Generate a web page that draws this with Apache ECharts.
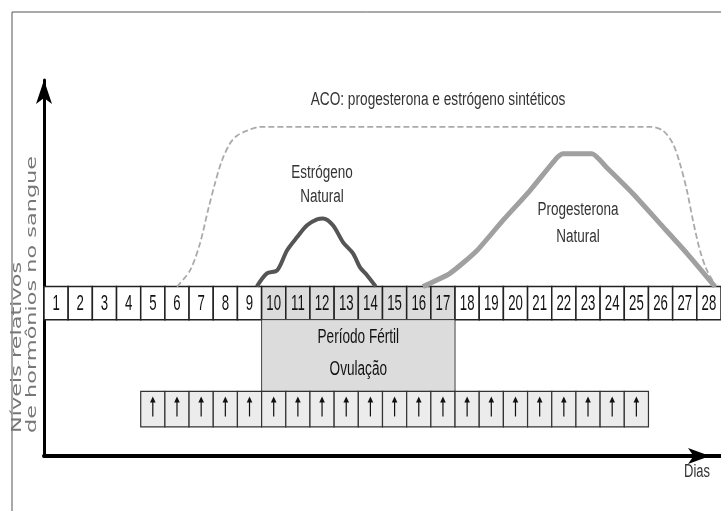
<!DOCTYPE html>
<html>
<head>
<meta charset="utf-8">
<script src="https://cdn.jsdelivr.net/npm/echarts@6/dist/echarts.min.js"></script>
<style>
  html, body { margin: 0; padding: 0; background: #fff; }
  #grafica { width: 721px; height: 511px; }
</style>
</head>
<body>
<div id="grafica"></div>
<script>
// Dias do ciclo
const days = [1, 2, 3, 4, 5, 6, 7, 8, 9, 10, 11, 12, 13, 14, 15, 16, 17, 18, 19, 20, 21, 22, 23, 24, 25, 26, 27, 28];
const fertileDays = [10, 11, 12, 13, 14, 15, 16, 17];
const pillDays = [5, 6, 7, 8, 9, 10, 11, 12, 13, 14, 15, 16, 17, 18, 19, 20, 21, 22, 23, 24, 25];
const fertileLabels = ['Período Fértil', 'Ovulação'];

// Niveis relativos [dia, nivel]
const acoCurve = [[5.5, 0], [6.04, 10], [6.45, 26.7], [6.78, 47.1], [7.07, 63.9], [7.36, 78.1], [7.69, 88.6],
  [7.98, 93.5], [8.4, 96.6], [8.94, 99], [25.06, 99], [25.6, 96.6], [26.01, 88.6], [26.3, 76.3],
  [26.59, 59.5], [26.84, 41], [27.13, 22.4], [27.42, 10], [27.8, 0]];
const estrogenCurve = [[8.8, 0], [9.22, 8.2], [9.64, 10], [10.05, 22.4], [10.46, 30.5], [10.88, 38],
  [11.29, 41.6], [11.54, 42.2], [11.95, 38], [12.37, 27.4], [12.78, 20.6], [13.07, 11.9], [13.36, 7], [13.72, 0]];
const progesteroneCurve = [[15.67, 0], [16.79, 8.2], [17.91, 22.4], [18.98, 41], [20.1, 59.5], [21.22, 79.9],
  [21.46, 82.3], [22.66, 82.3], [23.28, 73.6], [24.36, 57.5], [25.48, 39], [26.59, 20.6], [27.75, 0]];

// faixas da tabela abaixo do nivel zero
const dayRow = [0, -20.5];
const fertileRow = [-20.5, -65];
const pillRow = [-65, -87];

const chart = echarts.init(document.getElementById('grafica'));

function cellText(x, y, text, size, sx) {
  return {
    type: 'text', x: x, y: y, scaleX: sx,
    style: { text: text, fontSize: size, fontFamily: 'Liberation Sans', fill: '#111', align: 'center', verticalAlign: 'middle' }
  };
}

const option = {
  animation: false,
  grid: { left: 44, right: 0, top: 80, bottom: 55 },
  xAxis: {
    type: 'value', min: 0, max: 28,
    axisLine: { onZero: false, symbol: ['none', 'arrow'], symbolSize: [12, 22], symbolOffset: [0, -11],
      lineStyle: { color: '#000', width: 4 } },
    axisTick: { show: false }, axisLabel: { show: false }, splitLine: { show: false }
  },
  yAxis: {
    type: 'value', min: -105, max: 128,
    axisLine: { show: true, symbol: ['none', 'arrow'], symbolSize: [12, 24],
      lineStyle: { color: '#000', width: 3 } },
    axisTick: { show: false }, axisLabel: { show: false }, splitLine: { show: false }
  },
  graphic: [
    { type: 'line', shape: { x1: 12, y1: 12, x2: 721, y2: 12 }, style: { stroke: '#555', lineWidth: 1 } },
    { type: 'line', shape: { x1: 12, y1: 12, x2: 12, y2: 511 }, style: { stroke: '#555', lineWidth: 1 } },
    { type: 'text', x: 438, y: 100, scaleX: 0.76,
      style: { text: 'ACO: progesterona e estrógeno sintéticos', fontSize: 18, fontFamily: 'Liberation Sans', fill: '#333', align: 'center', verticalAlign: 'middle' } },
    { type: 'text', x: 322, y: 185, scaleX: 0.75,
      style: { text: 'Estrógeno\nNatural', fontSize: 18, lineHeight: 24, fontFamily: 'Liberation Sans', fill: '#333', align: 'center', verticalAlign: 'middle' } },
    { type: 'text', x: 578, y: 224, scaleX: 0.75,
      style: { text: 'Progesterona\nNatural', fontSize: 18, lineHeight: 27, fontFamily: 'Liberation Sans', fill: '#333', align: 'center', verticalAlign: 'middle' } },
    { type: 'text', x: 697, y: 472, scaleX: 0.72,
      style: { text: 'Dias', fontSize: 18, fontFamily: 'Liberation Sans', fill: '#333', align: 'center', verticalAlign: 'middle' } },
    { type: 'text', x: 25, y: 433, rotation: Math.PI / 2, scaleX: 1.6,
      style: { text: 'Níveis relativos\nde hormônios no sangue', fontSize: 14, lineHeight: 15, fontFamily: 'DejaVu Sans', fill: '#777', align: 'left', verticalAlign: 'middle' } }
  ],
  series: [
    {
      // linha dos dias
      type: 'custom',
      silent: true,
      data: days.map(d => [d, 0]),
      renderItem: function (params, api) {
        const d = api.value(0);
        const tl = api.coord([d - 1, dayRow[0]]);
        const br = api.coord([d, dayRow[1]]);
        const fertile = fertileDays.indexOf(d) >= 0;
        return {
          type: 'group',
          children: [
            { type: 'rect', shape: { x: tl[0], y: tl[1], width: br[0] - tl[0], height: br[1] - tl[1] },
              style: { fill: fertile ? '#dcdcdc' : '#fff', stroke: '#222', lineWidth: 1.5 } },
            cellText((tl[0] + br[0]) / 2, (tl[1] + br[1]) / 2 + 1, String(d), 22, 0.6)
          ]
        };
      }
    },
    {
      // periodo fertil
      type: 'custom',
      silent: true,
      data: [[fertileDays[0] - 1, fertileDays[fertileDays.length - 1]]],
      renderItem: function (params, api) {
        const tl = api.coord([api.value(0), fertileRow[0]]);
        const br = api.coord([api.value(1), fertileRow[1]]);
        const cx = (tl[0] + br[0]) / 2;
        const h = br[1] - tl[1];
        return {
          type: 'group',
          children: [
            { type: 'rect', shape: { x: tl[0], y: tl[1], width: br[0] - tl[0], height: h },
              style: { fill: '#dcdcdc', stroke: '#444', lineWidth: 1 } },
            cellText(cx, tl[1] + h * 0.25, fertileLabels[0], 20, 0.68),
            cellText(cx, tl[1] + h * 0.7, fertileLabels[1], 20, 0.68)
          ]
        };
      }
    },
    {
      // dias da pilula
      type: 'custom',
      silent: true,
      data: pillDays.map(d => [d, 0]),
      renderItem: function (params, api) {
        const d = api.value(0);
        const tl = api.coord([d - 1, pillRow[0]]);
        const br = api.coord([d, pillRow[1]]);
        const cx = (tl[0] + br[0]) / 2;
        const top = tl[1] + 5;
        return {
          type: 'group',
          children: [
            { type: 'rect', shape: { x: tl[0], y: tl[1], width: br[0] - tl[0], height: br[1] - tl[1] },
              style: { fill: '#ececec', stroke: '#333', lineWidth: 1.2 } },
            { type: 'line', shape: { x1: cx, y1: top + 3, x2: cx, y2: top + 20 },
              style: { stroke: '#111', lineWidth: 1.2 } },
            { type: 'polygon', shape: { points: [[cx, top], [cx - 2.8, top + 6], [cx + 2.8, top + 6]] },
              style: { fill: '#111' } }
          ]
        };
      }
    },
    {
      name: 'ACO',
      type: 'line',
      data: acoCurve,
      smooth: 0.3,
      showSymbol: false,
      silent: true,
      lineStyle: { color: '#aaa', width: 1.8, type: [6, 3] }
    },
    {
      name: 'Estrógeno Natural',
      type: 'line',
      data: estrogenCurve,
      smooth: 0.3,
      showSymbol: false,
      silent: true,
      lineStyle: { color: '#555', width: 4 }
    },
    {
      name: 'Progesterona Natural',
      type: 'line',
      data: progesteroneCurve,
      smooth: 0.2,
      showSymbol: false,
      silent: true,
      lineStyle: { color: '#a0a0a0', width: 5 }
    }
  ]
};

chart.setOption(option);
</script>
</body>
</html>
